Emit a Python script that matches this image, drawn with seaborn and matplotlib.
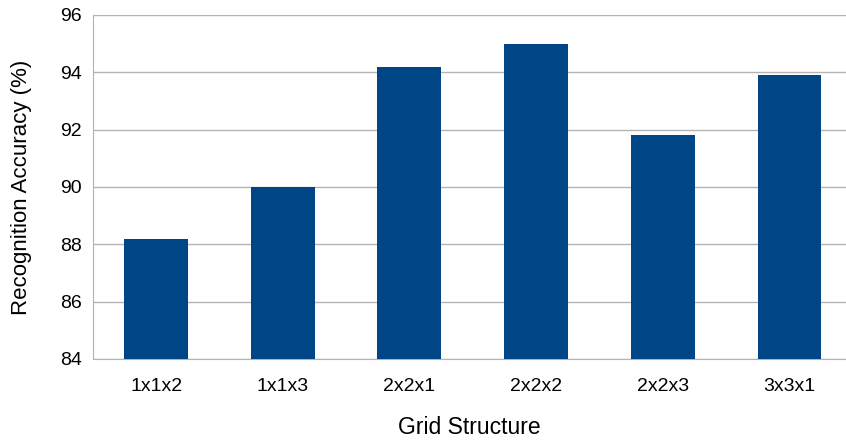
import pandas as pd
import seaborn as sns
import matplotlib.pyplot as plt
from matplotlib.ticker import FixedLocator

grids = ["1x1x2", "1x1x3", "2x2x1", "2x2x2", "2x2x3", "3x3x1"]
accuracy = [88.2, 90.0, 94.2, 95.0, 91.8, 93.9]

data = pd.DataFrame({"Grid Structure": grids, "Accuracy": accuracy})

sns.set_style("white")
plt.rcParams['font.family'] = ['Liberation Sans', 'DejaVu Sans']
plt.rcParams['text.color'] = 'black'
plt.rcParams['axes.labelcolor'] = 'black'
plt.rcParams['xtick.color'] = 'black'
plt.rcParams['ytick.color'] = 'black'

fig = plt.figure(figsize=(8.46, 4.41), dpi=100)
ax = fig.add_axes([0.1096, 0.186, 0.8904, 0.78])

sns.barplot(data=data, x="Grid Structure", y="Accuracy", color="#004586",
            saturation=1, width=0.505, linewidth=0, ax=ax, zorder=3)

ax.set_ylim(84, 96)
ax.set_xlim(-0.5, 5.446)
ax.set_yticks(range(84, 97, 2))
ax.yaxis.grid(True, color="#b3b3b3", linewidth=1, zorder=0)
ax.set_axisbelow(True)

ax.xaxis.set_minor_locator(FixedLocator([i - 0.5 for i in range(7)]))
ax.tick_params(axis="x", which="major", length=0, pad=14, labelsize=14)
ax.tick_params(axis="x", which="minor", length=6, color="#b3b3b3", width=1)
ax.tick_params(axis="y", length=5, color="#b3b3b3", width=1, labelsize=14, pad=3)

for side in ["top", "right"]:
    ax.spines[side].set_visible(False)
ax.spines["left"].set_color("#b3b3b3")
ax.spines["bottom"].set_color("#b3b3b3")

ax.set_xlabel("Grid Structure", fontsize=16.5, labelpad=15)
ax.set_ylabel("Recognition Accuracy (%)", fontsize=16, labelpad=20)

fig.savefig("out.png", dpi=100)
